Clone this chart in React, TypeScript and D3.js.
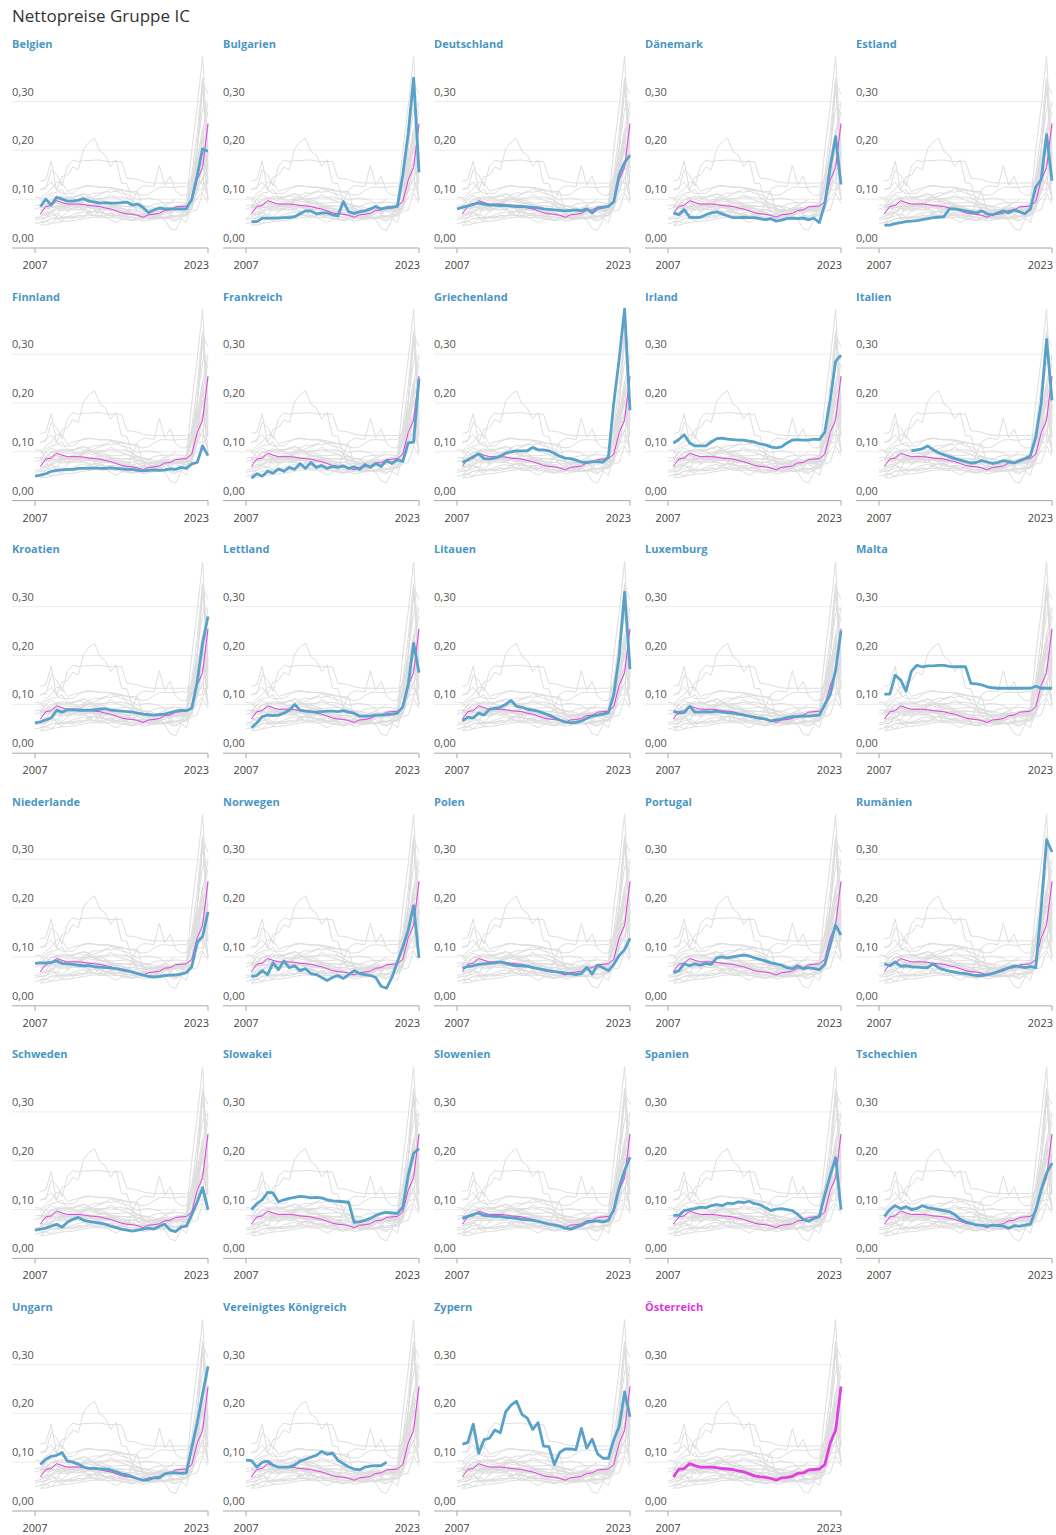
import React from 'react';
import * as d3 from 'd3';

// half-year periods, 2007S1 .. 2023S1
const periods = [
  '2007S1', '2007S2', '2008S1', '2008S2', '2009S1', '2009S2', '2010S1', '2010S2', '2011S1',
  '2011S2', '2012S1', '2012S2', '2013S1', '2013S2', '2014S1', '2014S2', '2015S1', '2015S2',
  '2016S1', '2016S2', '2017S1', '2017S2', '2018S1', '2018S2', '2019S1', '2019S2', '2020S1',
  '2020S2', '2021S1', '2021S2', '2022S1', '2022S2', '2023S1',
];
const xTickLabels = [
  { period: '2007S1', label: '2007', anchor: 'middle' },
  { period: '2023S1', label: '2023', anchor: 'end' },
];
const yTicks = [0, 0.1, 0.2, 0.3];

const belgien = [null, 0.085, 0.100, 0.088, 0.104, 0.100, 0.096, 0.096, 0.098, 0.101, 0.096, 0.094, 0.092, 0.093, 0.092, 0.092, 0.093, 0.094, 0.088, 0.090, 0.083, 0.072, 0.078, 0.082, 0.080, 0.080, 0.080, 0.080, 0.080, 0.100, 0.148, 0.203, 0.198];
const bulgarien = [null, 0.054, 0.054, 0.061, 0.061, 0.061, 0.061, 0.062, 0.062, 0.064, 0.070, 0.076, 0.076, 0.070, 0.072, 0.072, 0.068, 0.066, 0.095, 0.074, 0.071, 0.074, 0.076, 0.080, 0.085, 0.080, 0.082, 0.083, 0.085, 0.150, 0.235, 0.348, 0.155];
const deutschland = [0.080, 0.083, 0.086, 0.090, 0.092, 0.090, 0.088, 0.088, 0.087, 0.087, 0.086, 0.085, 0.085, 0.084, 0.083, 0.082, 0.080, 0.079, 0.078, 0.077, 0.076, 0.077, 0.078, 0.076, 0.080, 0.072, 0.081, 0.083, 0.085, 0.095, 0.150, 0.175, 0.190];
const daenemark = [null, 0.072, 0.068, 0.079, 0.063, 0.062, 0.063, 0.068, 0.072, 0.074, 0.070, 0.066, 0.062, 0.062, 0.063, 0.062, 0.062, 0.060, 0.058, 0.060, 0.055, 0.057, 0.060, 0.061, 0.060, 0.061, 0.058, 0.061, 0.052, 0.090, 0.165, 0.228, 0.130];
const estland = [null, 0.047, 0.047, 0.050, 0.052, 0.054, 0.055, 0.056, 0.058, 0.060, 0.062, 0.063, 0.064, 0.080, 0.080, 0.078, 0.076, 0.074, 0.072, 0.076, 0.070, 0.068, 0.072, 0.076, 0.072, 0.078, 0.074, 0.070, 0.080, 0.125, 0.140, 0.232, 0.138];
const finnland = [0.050, 0.052, 0.055, 0.060, 0.062, 0.063, 0.064, 0.064, 0.066, 0.066, 0.066, 0.067, 0.066, 0.066, 0.067, 0.066, 0.065, 0.064, 0.064, 0.062, 0.061, 0.062, 0.063, 0.062, 0.063, 0.065, 0.064, 0.068, 0.066, 0.075, 0.078, 0.112, 0.092];
const frankreich = [null, 0.046, 0.055, 0.050, 0.060, 0.056, 0.065, 0.060, 0.068, 0.064, 0.076, 0.066, 0.078, 0.068, 0.072, 0.066, 0.070, 0.068, 0.071, 0.066, 0.069, 0.064, 0.074, 0.068, 0.076, 0.070, 0.082, 0.076, 0.084, 0.080, 0.118, 0.120, 0.250];
const griechenland = [null, 0.078, 0.083, 0.090, 0.096, 0.086, 0.085, 0.087, 0.091, 0.097, 0.100, 0.102, 0.102, 0.102, 0.109, 0.104, 0.104, 0.102, 0.097, 0.091, 0.087, 0.086, 0.083, 0.079, 0.078, 0.080, 0.080, 0.079, 0.089, 0.200, 0.290, 0.392, 0.185];
const irland = [null, 0.118, 0.125, 0.135, 0.118, 0.112, 0.112, 0.112, 0.120, 0.127, 0.128, 0.126, 0.125, 0.124, 0.124, 0.122, 0.120, 0.116, 0.114, 0.110, 0.108, 0.110, 0.118, 0.124, 0.125, 0.124, 0.124, 0.126, 0.125, 0.140, 0.205, 0.285, 0.298];
const italien = [null, null, null, null, null, null, 0.102, 0.104, 0.106, 0.112, 0.104, 0.098, 0.094, 0.090, 0.086, 0.083, 0.080, 0.077, 0.078, 0.082, 0.079, 0.076, 0.078, 0.082, 0.080, 0.077, 0.081, 0.086, 0.092, 0.130, 0.200, 0.330, 0.205];
const kroatien = [0.062, 0.064, 0.068, 0.072, 0.088, 0.084, 0.089, 0.089, 0.088, 0.088, 0.088, 0.089, 0.090, 0.091, 0.088, 0.087, 0.086, 0.085, 0.084, 0.082, 0.080, 0.079, 0.078, 0.079, 0.080, 0.083, 0.086, 0.088, 0.087, 0.092, 0.145, 0.225, 0.280];
const lettland = [null, 0.052, 0.062, 0.075, 0.078, 0.077, 0.078, 0.082, 0.088, 0.100, 0.088, 0.086, 0.085, 0.084, 0.085, 0.086, 0.086, 0.085, 0.087, 0.084, 0.082, 0.076, 0.076, 0.076, 0.078, 0.078, 0.079, 0.080, 0.082, 0.095, 0.140, 0.225, 0.165];
const litauen = [null, 0.066, 0.074, 0.072, 0.082, 0.078, 0.090, 0.092, 0.094, 0.100, 0.108, 0.096, 0.094, 0.090, 0.088, 0.086, 0.082, 0.078, 0.073, 0.068, 0.064, 0.062, 0.063, 0.066, 0.071, 0.076, 0.078, 0.080, 0.083, 0.120, 0.200, 0.330, 0.172];
const luxemburg = [null, 0.086, 0.082, 0.083, 0.096, 0.084, 0.084, 0.085, 0.084, 0.086, 0.084, 0.083, 0.082, 0.080, 0.078, 0.076, 0.074, 0.072, 0.070, 0.066, 0.068, 0.070, 0.073, 0.075, 0.075, 0.076, 0.076, 0.077, 0.078, 0.100, 0.120, 0.170, 0.250];
const malta = [null, 0.121, 0.121, 0.160, 0.150, 0.127, 0.168, 0.180, 0.177, 0.179, 0.179, 0.180, 0.180, 0.178, 0.177, 0.177, 0.177, 0.143, 0.142, 0.140, 0.136, 0.134, 0.133, 0.133, 0.133, 0.133, 0.133, 0.133, 0.133, 0.137, 0.133, 0.133, 0.133];
const niederlande = [0.087, 0.088, 0.088, 0.089, 0.092, 0.087, 0.086, 0.085, 0.083, 0.082, 0.082, 0.080, 0.079, 0.078, 0.077, 0.076, 0.074, 0.072, 0.069, 0.066, 0.063, 0.060, 0.059, 0.060, 0.062, 0.063, 0.063, 0.065, 0.068, 0.080, 0.130, 0.142, 0.192];
const norwegen = [null, 0.060, 0.062, 0.072, 0.064, 0.088, 0.074, 0.092, 0.078, 0.082, 0.072, 0.076, 0.066, 0.064, 0.058, 0.052, 0.058, 0.062, 0.056, 0.064, 0.072, 0.066, 0.064, 0.062, 0.058, 0.040, 0.036, 0.058, 0.090, 0.120, 0.155, 0.205, 0.098];
const polen = [null, 0.077, 0.080, 0.082, 0.085, 0.086, 0.087, 0.088, 0.090, 0.087, 0.084, 0.082, 0.082, 0.081, 0.078, 0.076, 0.074, 0.072, 0.070, 0.069, 0.067, 0.066, 0.064, 0.066, 0.079, 0.065, 0.083, 0.078, 0.072, 0.085, 0.103, 0.115, 0.138];
const portugal = [null, 0.068, 0.072, 0.086, 0.082, 0.086, 0.083, 0.087, 0.085, 0.098, 0.100, 0.098, 0.100, 0.102, 0.104, 0.102, 0.098, 0.095, 0.092, 0.088, 0.086, 0.083, 0.078, 0.076, 0.082, 0.076, 0.078, 0.076, 0.074, 0.085, 0.125, 0.165, 0.145];
const rumaenien = [null, 0.086, 0.082, 0.090, 0.081, 0.082, 0.080, 0.079, 0.078, 0.078, 0.086, 0.078, 0.074, 0.071, 0.069, 0.067, 0.066, 0.064, 0.062, 0.062, 0.064, 0.066, 0.070, 0.074, 0.078, 0.082, 0.080, 0.078, 0.080, 0.078, 0.200, 0.340, 0.315];
const schweden = [0.058, 0.060, 0.062, 0.066, 0.070, 0.064, 0.074, 0.080, 0.084, 0.078, 0.076, 0.074, 0.072, 0.070, 0.066, 0.063, 0.060, 0.058, 0.056, 0.058, 0.060, 0.062, 0.060, 0.066, 0.070, 0.058, 0.055, 0.064, 0.066, 0.090, 0.115, 0.145, 0.100];
const slowakei = [null, 0.100, 0.112, 0.120, 0.135, 0.134, 0.116, 0.120, 0.123, 0.125, 0.127, 0.126, 0.124, 0.125, 0.124, 0.120, 0.118, 0.117, 0.116, 0.115, 0.074, 0.075, 0.078, 0.082, 0.088, 0.092, 0.094, 0.093, 0.092, 0.105, 0.170, 0.215, 0.225];
const slowenien = [null, 0.082, 0.086, 0.090, 0.093, 0.088, 0.087, 0.086, 0.086, 0.084, 0.083, 0.082, 0.080, 0.079, 0.078, 0.076, 0.073, 0.070, 0.068, 0.066, 0.062, 0.060, 0.064, 0.068, 0.074, 0.076, 0.077, 0.075, 0.078, 0.100, 0.145, 0.180, 0.207];
const spanien = [null, 0.088, 0.088, 0.098, 0.100, 0.102, 0.105, 0.104, 0.108, 0.110, 0.108, 0.113, 0.112, 0.116, 0.114, 0.117, 0.112, 0.110, 0.104, 0.098, 0.101, 0.102, 0.100, 0.098, 0.090, 0.080, 0.076, 0.082, 0.086, 0.130, 0.170, 0.206, 0.100];
const tschechien = [null, 0.086, 0.100, 0.108, 0.102, 0.106, 0.100, 0.102, 0.108, 0.104, 0.102, 0.100, 0.098, 0.096, 0.090, 0.080, 0.075, 0.072, 0.068, 0.068, 0.066, 0.068, 0.067, 0.066, 0.062, 0.067, 0.066, 0.068, 0.070, 0.100, 0.140, 0.175, 0.195];
const ungarn = [null, 0.095, 0.106, 0.112, 0.114, 0.120, 0.102, 0.100, 0.096, 0.090, 0.087, 0.088, 0.086, 0.086, 0.084, 0.080, 0.076, 0.074, 0.070, 0.066, 0.063, 0.064, 0.068, 0.068, 0.076, 0.078, 0.078, 0.077, 0.078, 0.130, 0.180, 0.240, 0.296];
const vereinigtesKoenigreich = [0.104, 0.103, 0.090, 0.100, 0.102, 0.094, 0.090, 0.090, 0.090, 0.094, 0.102, 0.106, 0.110, 0.114, 0.122, 0.116, 0.119, 0.104, 0.097, 0.090, 0.086, 0.084, 0.090, 0.092, 0.093, 0.093, 0.100, null, null, null, null, null, null];
const zypern = [null, 0.137, 0.140, 0.178, 0.118, 0.146, 0.149, 0.166, 0.160, 0.203, 0.217, 0.225, 0.198, 0.190, 0.167, 0.181, 0.133, 0.132, 0.095, 0.120, 0.127, 0.127, 0.125, 0.169, 0.129, 0.147, 0.117, 0.108, 0.108, 0.146, 0.173, 0.244, 0.193];
const oesterreich = [null, 0.070, 0.085, 0.087, 0.097, 0.093, 0.090, 0.090, 0.090, 0.089, 0.087, 0.086, 0.085, 0.082, 0.080, 0.076, 0.072, 0.070, 0.069, 0.067, 0.063, 0.068, 0.069, 0.071, 0.077, 0.078, 0.084, 0.085, 0.086, 0.095, 0.139, 0.165, 0.255];

const countries = [
  { name: 'Belgien', values: belgien },
  { name: 'Bulgarien', values: bulgarien },
  { name: 'Deutschland', values: deutschland },
  { name: 'Dänemark', values: daenemark },
  { name: 'Estland', values: estland },
  { name: 'Finnland', values: finnland },
  { name: 'Frankreich', values: frankreich },
  { name: 'Griechenland', values: griechenland },
  { name: 'Irland', values: irland },
  { name: 'Italien', values: italien },
  { name: 'Kroatien', values: kroatien },
  { name: 'Lettland', values: lettland },
  { name: 'Litauen', values: litauen },
  { name: 'Luxemburg', values: luxemburg },
  { name: 'Malta', values: malta },
  { name: 'Niederlande', values: niederlande },
  { name: 'Norwegen', values: norwegen },
  { name: 'Polen', values: polen },
  { name: 'Portugal', values: portugal },
  { name: 'Rumänien', values: rumaenien },
  { name: 'Schweden', values: schweden },
  { name: 'Slowakei', values: slowakei },
  { name: 'Slowenien', values: slowenien },
  { name: 'Spanien', values: spanien },
  { name: 'Tschechien', values: tschechien },
  { name: 'Ungarn', values: ungarn },
  { name: 'Vereinigtes Königreich', values: vereinigtesKoenigreich },
  { name: 'Zypern', values: zypern },
  { name: 'Österreich', values: oesterreich },
];
const HOME = 'Österreich';

const W = 1056, H = 1535;
const COLS = 5, COL_W = 211, ROW_H = 252.6, LEFT = 12;
const BLUE = '#58a1c9', BLUE_TEXT = '#4b97c3', PINK = '#e23fe0', GRAY = '#dedede';
const FONT = '"Open Sans", "Noto Sans", sans-serif';

const x = d3.scalePoint<string>().domain(periods).range([23, 196]);
const y = d3.scaleLinear().domain([0, 0.3]).range([248, 101.5]);
const line = d3.line<number | null>()
  .defined(v => v != null)
  .x((_, i) => x(periods[i]) as number)
  .y(v => y(v as number));

const fmt = (v: number) => v.toFixed(2).replace('.', ',');

function Panel({ name, values, col, row }: { name: string; values: (number | null)[]; col: number; row: number }) {
  const home = countries.find(c => c.name === HOME)!;
  const isHome = name === HOME;
  return (
    <g transform={`translate(${LEFT + col * COL_W},${row * ROW_H})`}>
      <text x={0} y={48} fontSize={11} fontWeight={700} fill={isHome ? '#d93bd8' : BLUE_TEXT}>{name}</text>
      {yTicks.map(t => (
        <g key={t}>
          {t > 0 && <line x1={0} x2={196} y1={y(t)} y2={y(t)} stroke="#ececec" strokeWidth={1} />}
          <text x={0} y={y(t) - 6} fontSize={11} fill="#555">{fmt(t)}</text>
        </g>
      ))}
      <line x1={0} x2={196} y1={y(0)} y2={y(0)} stroke="#a8a8a8" strokeWidth={1} />
      {xTickLabels.map(t => (
        <g key={t.label}>
          <line x1={x(t.period)} x2={x(t.period)} y1={y(0)} y2={y(0) + 5} stroke="#a8a8a8" />
          <text x={(x(t.period) as number) + (t.anchor === 'end' ? 1 : 0)} y={269} fontSize={11} fill="#444" textAnchor={t.anchor}>{t.label}</text>
        </g>
      ))}
      {countries.map(c => (
        <path key={c.name} d={line(c.values) || ''} fill="none" stroke={GRAY} strokeWidth={1} />
      ))}
      <path d={line(home.values) || ''} fill="none" stroke={PINK} strokeWidth={isHome ? 2.8 : 1} strokeLinejoin="round" />
      {!isHome && (
        <path d={line(values) || ''} fill="none" stroke={BLUE} strokeWidth={2.8} strokeLinejoin="round" />
      )}
    </g>
  );
}

export default function App() {
  return (
    <svg width={W} height={H} style={{ position: 'absolute', left: 0, top: 0, background: '#fff' }} fontFamily={FONT}>
      <text x={12} y={22} fontSize={17} fill="#333">Nettopreise Gruppe IC</text>
      {countries.map((c, i) => (
        <Panel key={c.name} name={c.name} values={c.values} col={i % COLS} row={Math.floor(i / COLS)} />
      ))}
    </svg>
  );
}
